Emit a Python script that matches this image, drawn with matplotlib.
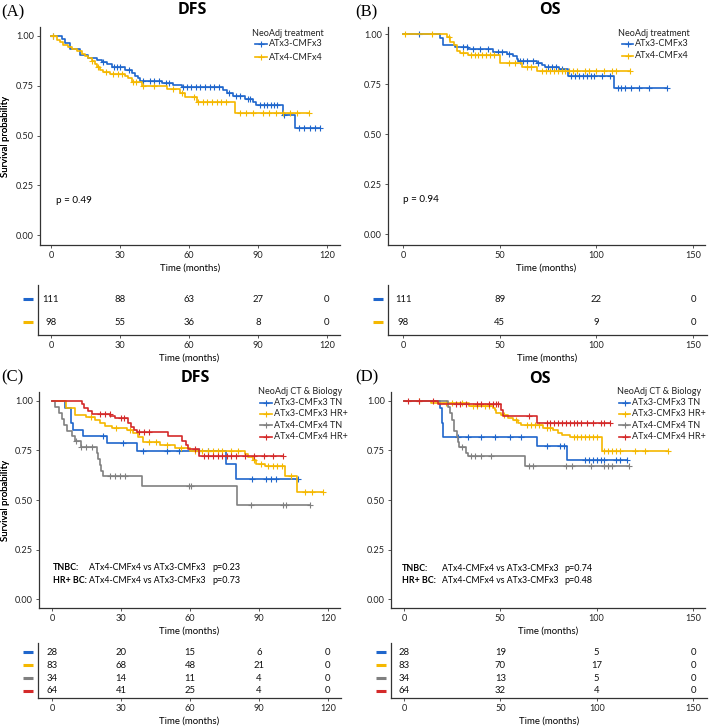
import matplotlib
matplotlib.use("Agg")
import matplotlib.pyplot as plt
from matplotlib.lines import Line2D
import numpy as np

plt.rcParams["font.family"] = ["Lato", "DejaVu Sans"]

W, H = 713, 727

blue = "#1f66cc"
yellow = "#f5b800"
grey = "#808080"
red = "#d42a2a"

# ---------------- data ----------------
# panel A: DFS by treatment
a_x3_t = [4.6, 6.1, 8.3, 12.6, 16.2, 19.9, 22.0, 24.2, 26.4, 32.2, 35.1, 36.5,
          38.0, 38.7, 48.1, 53.2, 56.8, 74.9, 76.4, 79.3, 84.3, 88.0, 89.1,
          100.7, 106.1]
a_x3_s = [0.985, 0.965, 0.935, 0.905, 0.89, 0.88, 0.87, 0.86, 0.845, 0.83,
          0.815, 0.80, 0.79, 0.775, 0.765, 0.755, 0.745, 0.73, 0.715, 0.70,
          0.685, 0.67, 0.655, 0.605, 0.54]
a_x3_end = 117
a_x3_cens = [1, 22.5, 27.5, 28.5, 30, 34, 40, 43, 45, 47, 50, 51.5, 57.5, 59,
             61, 63, 65, 67, 69, 71, 73, 77.5, 80.5, 82, 85.5, 86.5, 91, 92.5,
             94, 95.5, 97, 98.5, 101.5, 108, 110, 112.5, 115, 117]

a_x4_t = [2.5, 3.9, 5.4, 7.5, 9.0, 11.2, 13.3, 14.8, 16.2, 17.7, 19.1, 20.1,
          21.3, 22.8, 25.7, 32.2, 33.6, 35.1, 39.4, 50.3, 56.1, 58.3, 63.3,
          80.0]
a_x4_s = [0.98, 0.97, 0.955, 0.945, 0.935, 0.925, 0.91, 0.90, 0.89, 0.875,
          0.86, 0.845, 0.83, 0.82, 0.81, 0.80, 0.79, 0.77, 0.75, 0.735, 0.715,
          0.695, 0.67, 0.615]
a_x4_end = 112
a_x4_cens = [1, 18, 20.5, 24, 27, 29, 31, 35.5, 37, 40, 45, 53, 57, 62, 64, 66,
             68, 70, 72, 74, 76, 82, 85, 88, 92, 95, 98, 101, 104, 107, 112]

# panel B: OS by treatment
b_x3_t = [19.1, 20.9, 27.0, 33.8, 46.5, 53.6, 57.0, 58.8, 59.7, 69.1, 71.7,
          73.4, 80.7, 85.2, 109.3]
b_x3_s = [0.98, 0.945, 0.935, 0.925, 0.91, 0.90, 0.89, 0.875, 0.865, 0.855,
          0.845, 0.835, 0.825, 0.79, 0.73]
b_x3_end = 136.5
b_x3_cens = [8, 31, 33, 36, 40, 44, 49, 51, 55, 60.5, 62, 64, 67, 70, 75, 77,
             79, 82, 87, 89, 91, 93, 95, 97, 99, 103, 107, 111, 113, 115, 118,
             122, 127, 136.5]

b_x4_t = [22.6, 24.3, 26.2, 27.8, 29.5, 33.8, 50.0, 61.4, 69.4]
b_x4_s = [0.985, 0.96, 0.945, 0.915, 0.905, 0.895, 0.855, 0.835, 0.815]
b_x4_end = 117.4
b_x4_cens = [1, 15, 24, 31, 35, 37, 39, 41, 43, 45, 47, 55, 58, 64, 66, 72, 74,
             76, 78, 80, 82, 84, 86, 88, 90, 94, 96, 100, 104, 108, 110, 117.4]

# panel C: DFS by treatment & biology
c_x3tn_t = [5.5, 8.2, 9.1, 13.4, 24.1, 37.1, 75.6, 79.9]
c_x3tn_s = [0.965, 0.89, 0.855, 0.82, 0.785, 0.745, 0.68, 0.605]
c_x3tn_end = 107
c_x3tn_cens = [22, 31, 39.5, 50, 55, 64, 68, 87, 93, 95, 97.5, 107]

c_x3hr_t = [6.2, 10.1, 14.9, 18.8, 21.0, 23.1, 26.0, 32.5, 35.4, 37.6, 39.7,
            47.0, 53.5, 60.0, 83.8, 85.3, 87.4, 88.9, 92.5, 101.2, 106.6]
c_x3hr_s = [0.965, 0.93, 0.92, 0.905, 0.89, 0.875, 0.865, 0.855, 0.84, 0.815,
            0.79, 0.775, 0.76, 0.745, 0.73, 0.715, 0.70, 0.68, 0.67, 0.62,
            0.54]
c_x3hr_end = 117.8
c_x3hr_cens = [17, 28, 34, 42, 45, 50, 56, 62, 65, 68, 70, 72, 74, 78, 81, 88,
               91, 94, 96, 98, 100, 104, 110, 113, 117.8]

c_x4tn_t = [1.5, 3.2, 4.2, 5.3, 6.5, 8.5, 10.0, 12.5, 19.7, 20.2, 20.8, 21.4,
            22.0, 39.2, 80.3]
c_x4tn_s = [0.97, 0.94, 0.91, 0.88, 0.85, 0.82, 0.795, 0.765, 0.735, 0.705,
            0.675, 0.645, 0.62, 0.57, 0.475]
c_x4tn_end = 112
c_x4tn_cens = [10.5, 12.7, 14.9, 17.3, 25.3, 27.5, 29.6, 31.8, 59.7, 60.5,
               86.7, 100.4, 101.9, 112]

c_x4hr_t = [13.0, 14.0, 15.5, 17.3, 25.3, 27.5, 33.0, 34.4, 35.8, 36.8, 50.3,
            56.4, 58.2, 59.2, 63.9]
c_x4hr_s = [0.985, 0.965, 0.95, 0.935, 0.925, 0.915, 0.89, 0.87, 0.855,
            0.845, 0.82, 0.795, 0.775, 0.755, 0.72]
c_x4hr_end = 100.4
c_x4hr_cens = [21, 23, 25, 30, 31.5, 38, 40, 42, 62, 66, 68, 70, 72, 74, 76,
               78, 80, 84, 88, 92, 96, 100.4]

# panel D: OS by treatment & biology
d_x3tn_t = [18.6, 19.8, 20.5, 68.8, 84.4]
d_x3tn_s = [0.965, 0.89, 0.82, 0.77, 0.70]
d_x3tn_end = 115.5
d_x3tn_cens = [28, 33, 40, 47, 55, 61, 74, 81, 83, 94, 96, 98, 100, 102, 104,
               110, 112, 115.5]

d_x3hr_t = [14.2, 34.0, 46.3, 47.2, 48.0, 50.6, 54.1, 56.7, 59.3, 61.0, 72.3,
            77.5, 80.1, 81.8, 86.2, 102.7]
d_x3hr_s = [0.99, 0.975, 0.965, 0.955, 0.94, 0.93, 0.915, 0.905, 0.89, 0.88,
            0.865, 0.855, 0.84, 0.83, 0.82, 0.745]
d_x3hr_end = 137
d_x3hr_cens = [8, 22, 25, 30, 36, 38, 42, 44, 52, 58, 64, 66, 68, 70, 74, 76,
               88, 90, 92, 94, 96, 98, 100, 104, 106, 108, 110, 112, 120, 125,
               137]

d_x4tn_t = [23.0, 24.1, 25.0, 25.8, 26.0, 27.7, 28.3, 28.6, 32.4, 33.1, 62.8]
d_x4tn_s = [0.97, 0.94, 0.905, 0.88, 0.85, 0.82, 0.795, 0.765, 0.735, 0.72,
            0.67]
d_x4tn_end = 117
d_x4tn_cens = [30, 35, 37, 40, 45, 65, 67, 84, 87, 97, 104, 106, 108, 117]

d_x4hr_t = [17.7, 50.3, 51.5, 69.0]
d_x4hr_s = [0.985, 0.955, 0.925, 0.89]
d_x4hr_end = 107
d_x4hr_cens = [2, 8, 15, 27, 29, 32, 38, 40, 44, 46, 48, 49, 65, 74, 76, 78,
               80, 82, 84, 86, 88, 90, 92, 95, 98, 102, 104, 107]

# numbers at risk
dfs_times = [0, 30, 60, 90, 120]
os_times = [0, 50, 100, 150]
a_risk_x3 = [111, 88, 63, 27, 0]
a_risk_x4 = [98, 55, 36, 8, 0]
b_risk_x3 = [111, 89, 22, 0]
b_risk_x4 = [98, 45, 9, 0]
c_risk = [[28, 20, 15, 6, 0], [83, 68, 48, 21, 0], [34, 14, 11, 4, 0],
          [64, 41, 25, 4, 0]]
d_risk = [[28, 19, 5, 0], [83, 70, 17, 0], [34, 13, 5, 0], [64, 32, 4, 0]]

trt_labels = ["ATx3-CMFx3", "ATx4-CMFx4"]
bio_labels = ["ATx3-CMFx3 TN", "ATx3-CMFx3 HR+", "ATx4-CMFx4 TN",
              "ATx4-CMFx4 HR+"]

# ---------------- drawing ----------------
fig = plt.figure(figsize=(W / 100, H / 100), dpi=100)

FS_TICK = 6.6     # tick labels
FS_LAB = 6.9      # axis labels
FS_TXT = 6.5      # legend / comparison text
FS_NUM = 6.8      # numbers at risk


def px_axes(l, t, r, b):
    return fig.add_axes([l / W, 1 - b / H, (r - l) / W, (b - t) / H])


def style(ax):
    for s in ["top", "right"]:
        ax.spines[s].set_visible(False)
    for s in ["left", "bottom"]:
        ax.spines[s].set_color("#333333")
        ax.spines[s].set_linewidth(0.9)
    ax.tick_params(length=2.5, width=0.7, color="#555555", labelsize=FS_TICK,
                   pad=2, labelcolor="#222222")


def km(ax, t, s, t_end, cens, color):
    xs = [0] + t + [t_end]
    ys = [1] + s + [s[-1]]
    ax.step(xs, ys, where="post", color=color, lw=1.2)
    idx = np.searchsorted(np.array(xs), np.array(cens), side="right") - 1
    cy = np.array(ys)[idx]
    ax.plot(cens, cy, ls="none", marker="+", ms=4, mew=0.8, color=color)


def main_panel(l, t, r, b, xlim, ylim, xticks):
    ax = px_axes(l, t, r, b)
    style(ax)
    ax.set_xlim(xlim)
    ax.set_ylim(ylim)
    ax.set_xticks(xticks)
    ax.set_yticks([0, 0.25, 0.5, 0.75, 1.0])
    ax.set_yticklabels(["0.00", "0.25", "0.50", "0.75", "1.00"])
    ax.set_ylabel("Survival probability", fontsize=FS_LAB)
    ax.set_xlabel("Time (months)", fontsize=FS_LAB)
    ax.yaxis.set_label_coords(-(l - 10) / (r - l), 0.5)
    ax.xaxis.set_label_coords(0.5, -19 / (b - t))
    return ax


def add_legend(title, labels, colors, x_title, y_title, x0, x1, ys):
    fig.text(x_title / W, 1 - y_title / H, title, fontsize=FS_TXT,
             va="center", ha="left", color="#222222")
    for lab, c, y in zip(labels, colors, ys):
        fig.add_artist(Line2D([x0 / W, x1 / W], [1 - y / H, 1 - y / H],
                              color=c, lw=1.2))
        fig.add_artist(Line2D([(x0 + x1) / 2 / W], [1 - y / H], color=c,
                              marker="+", ms=4, mew=0.8))
        fig.text((x1 + 2) / W, 1 - y / H, lab, fontsize=FS_TXT, va="center",
                 ha="left", color="#222222")


def risk_table(l, t, r, b, xlim, xticks, rows, colors, ylim):
    ax = px_axes(l, t, r, b)
    style(ax)
    ax.set_xlim(xlim)
    ax.set_ylim(ylim)
    ax.set_xticks(xticks)
    ax.set_yticks([])
    ax.set_xlabel("Time (months)", fontsize=FS_LAB)
    ax.xaxis.set_label_coords(0.5, -18.5 / (b - t))
    n = len(rows)
    for i, (vals, c) in enumerate(zip(rows, colors)):
        yv = n - i
        for xt, v in zip(xticks, vals):
            ax.text(xt, yv, str(v), ha="center", va="center", fontsize=FS_NUM,
                    color="#111111")
        ax.plot([-10 / (r - l)], [yv], marker="_", ms=7, mew=2.2, color=c,
                clip_on=False, transform=ax.get_yaxis_transform())
    return ax


# Panel A
axA = main_panel(40, 27, 340, 245, (-4.8, 125.7), (-0.05, 1.045), dfs_times)
km(axA, a_x3_t, a_x3_s, a_x3_end, a_x3_cens, blue)
km(axA, a_x4_t, a_x4_s, a_x4_end, a_x4_cens, yellow)
axA.text(2, 0.176, "p = 0.49", fontsize=FS_NUM + 0.3, va="center")
add_legend("NeoAdj treatment", trt_labels, [blue, yellow], 252, 33, 255, 267,
           [44, 57])

# Panel B
axB = main_panel(388, 27, 705, 245, (-7.8, 156.2), (-0.054, 1.036), os_times)
km(axB, b_x3_t, b_x3_s, b_x3_end, b_x3_cens, blue)
km(axB, b_x4_t, b_x4_s, b_x4_end, b_x4_cens, yellow)
axB.text(0, 0.176, "p = 0.94", fontsize=FS_NUM + 0.3, va="center")
add_legend("NeoAdj treatment", trt_labels, [blue, yellow], 618, 33, 622, 633,
           [43.5, 56])

# Panel C
bio_colors = [blue, yellow, grey, red]
axC = main_panel(39, 392, 340, 608, (-5.65, 125.2), (-0.044, 1.044), dfs_times)
km(axC, c_x3tn_t, c_x3tn_s, c_x3tn_end, c_x3tn_cens, blue)
km(axC, c_x3hr_t, c_x3hr_s, c_x3hr_end, c_x3hr_cens, yellow)
km(axC, c_x4tn_t, c_x4tn_s, c_x4tn_end, c_x4tn_cens, grey)
km(axC, c_x4hr_t, c_x4hr_s, c_x4hr_end, c_x4hr_cens, red)
add_legend("NeoAdj CT & Biology", bio_labels, bio_colors, 258, 391, 260, 272,
           [402.5, 414, 425, 436.5])
for yv, lab, pv in [(0.158, "TNBC:", "p=0.23"), (0.097, "HR+ BC:", "p=0.73")]:
    axC.text(0.4, yv, lab, fontsize=6.4, fontweight="bold", va="center")
    axC.text(16.3, yv, "ATx4-CMFx4 vs ATx3-CMFx3", fontsize=6.3,
             va="center")
    axC.text(69.6, yv, pv, fontsize=FS_TXT, va="center")

# Panel D
axD = main_panel(391, 392, 705, 608, (-6.7, 156.2), (-0.045, 1.045), os_times)
km(axD, d_x3tn_t, d_x3tn_s, d_x3tn_end, d_x3tn_cens, blue)
km(axD, d_x3hr_t, d_x3hr_s, d_x3hr_end, d_x3hr_cens, yellow)
km(axD, d_x4tn_t, d_x4tn_s, d_x4tn_end, d_x4tn_cens, grey)
km(axD, d_x4hr_t, d_x4hr_s, d_x4hr_end, d_x4hr_cens, red)
add_legend("NeoAdj CT & Biology", bio_labels, bio_colors, 617, 391, 619, 630,
           [402.5, 414, 425, 436.5])
for yv, lab, pv in [(0.156, "TNBC:", "p=0.74"), (0.096, "HR+ BC:", "p=0.48")]:
    axD.text(-1, yv, lab, fontsize=6.4, fontweight="bold", va="center")
    axD.text(19.8, yv, "ATx4-CMFx4 vs ATx3-CMFx3", fontsize=6.3,
             va="center")
    axD.text(83.5, yv, pv, fontsize=FS_TXT, va="center")

# risk tables
risk_table(38, 285, 340, 335, (-5.65, 125.7), dfs_times,
           [a_risk_x3, a_risk_x4], [blue, yellow], (0.435, 2.61))
risk_table(388, 285, 707, 335, (-7.8, 157.2), os_times,
           [b_risk_x3, b_risk_x4], [blue, yellow], (0.435, 2.61))
risk_table(38, 643, 341, 698, (-6.1, 125.7), dfs_times, c_risk, bio_colors,
           (0.457, 4.72))
risk_table(391, 643, 707, 698, (-6.7, 157.2), os_times, d_risk, bio_colors,
           (0.457, 4.72))

# titles and panel letters
for x, y, s in [(192, 10, "DFS"), (550, 10, "OS"), (195, 378, "DFS"),
                (540, 379, "OS")]:
    fig.text(x / W, 1 - y / H, s, ha="center", va="center", fontsize=11.5,
             fontweight="bold", family=["Open Sans", "DejaVu Sans"])
for x, y, s in [(1, 12, "(A)"), (355, 12, "(B)"), (1, 377, "(C)"),
                (355, 377, "(D)")]:
    fig.text(x / W, 1 - y / H, s, ha="left", va="center", fontsize=12,
             family=["Liberation Serif", "DejaVu Serif"])

fig.savefig("out.png", dpi=100)
